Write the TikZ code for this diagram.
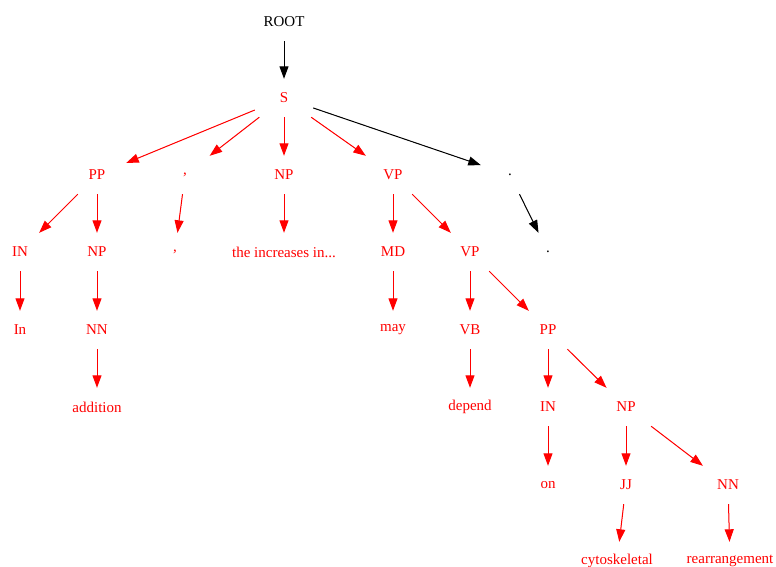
\documentclass[tikz,border=0pt]{standalone}
\usepackage{fontspec}
\setmainfont{Liberation Serif}
\usetikzlibrary{arrows.meta}
\begin{document}
\begin{tikzpicture}[x=1pt,y=-1pt,
  n/.style={rectangle, minimum width=58pt, minimum height=38pt, inner sep=0pt, text=red, font=\fontsize{15}{18}\selectfont},
  nb/.style={n, text=black},
  e/.style={draw=red, line width=1pt, -{Triangle[length=12.5pt,width=9pt]}, fill=red},
  eb/.style={draw=black, line width=1pt, -{Triangle[length=12.5pt,width=9pt]}, fill=black}]
\useasboundingbox (0,0) rectangle (776,567);
\node[nb] (root) at (284,22) {ROOT};
\node[n] (s) at (284,98) {S};
\node[n] (pp1) at (97,175) {PP};
\node[n] (c1) at (185,175) {,};
\node[n] (np1) at (284,175) {NP};
\node[n] (vp1) at (393,175) {VP};
\node[nb] (d1) at (510,175) {.};
\node[n] (in1) at (20,252) {IN};
\node[n] (np2) at (97,252) {NP};
\node[n] (c2) at (175,252) {,};
\node[n] (inc) at (284,252) {the increases in...};
\node[n] (md) at (393,252) {MD};
\node[n] (vp2) at (470,252) {VP};
\node[nb] (d2) at (548,252) {.};
\node[n] (w1) at (20,330) {In};
\node[n] (nn1) at (97,330) {NN};
\node[n] (may) at (393,330) {may};
\node[n] (vb) at (470,330) {VB};
\node[n] (pp2) at (548,330) {PP};
\node[n] (add) at (97,407) {addition};
\node[n] (dep) at (470,407) {depend};
\node[n] (in2) at (548,407) {IN};
\node[n] (np3) at (626,407) {NP};
\node[n] (on) at (548,485) {on};
\node[n] (jj) at (626,485) {JJ};
\node[n] (nn2) at (728,485) {NN};
\node[n] (cyto) at (617,561) {cytoskeletal};
\node[n] (rear) at (730,561) {rearrangement};
\draw[eb] (root) -- (s);
\draw[e] (s) -- (pp1);
\draw[e] (s) -- (c1);
\draw[e] (s) -- (np1);
\draw[e] (s) -- (vp1);
\draw[eb] (s) -- (d1);
\draw[e] (pp1) -- (in1);
\draw[e] (pp1) -- (np2);
\draw[e] (c1) -- (c2);
\draw[e] (np1) -- (inc);
\draw[e] (vp1) -- (md);
\draw[e] (vp1) -- (vp2);
\draw[eb] (d1) -- (d2);
\draw[e] (in1) -- (w1);
\draw[e] (np2) -- (nn1);
\draw[e] (md) -- (may);
\draw[e] (vp2) -- (vb);
\draw[e] (vp2) -- (pp2);
\draw[e] (nn1) -- (add);
\draw[e] (vb) -- (dep);
\draw[e] (pp2) -- (in2);
\draw[e] (pp2) -- (np3);
\draw[e] (in2) -- (on);
\draw[e] (np3) -- (jj);
\draw[e] (np3) -- (nn2);
\draw[e] (jj) -- (cyto);
\draw[e] (nn2) -- (rear);
\end{tikzpicture}
\end{document}
